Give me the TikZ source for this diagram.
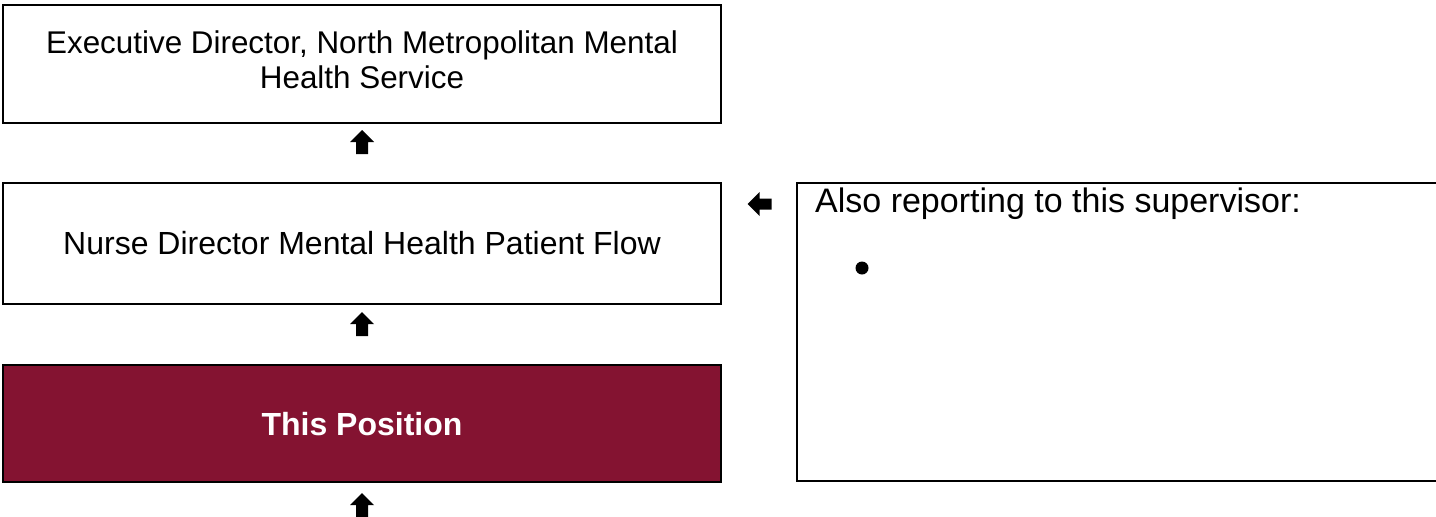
\documentclass[tikz,border=0pt]{standalone}
\usepackage{fontspec}
\setmainfont{Liberation Sans}
\definecolor{maroon}{HTML}{841331}
\begin{document}
\begin{tikzpicture}[x=1pt,y=-1pt,
  box/.style={draw=black,line width=2.5pt,minimum width=718pt,inner sep=0pt},
  txt/.style={inner sep=0pt,align=center,font=\fontsize{32}{35}\selectfont},
  uparrow/.pic={\fill[black] (-12,0) -- (0,-12) -- (12,0) -- (6,0) -- (6,12) -- (-6,12) -- (-6,0) -- cycle;},
  leftarrow/.pic={\fill[black] (0,-12) -- (-12,0) -- (0,12) -- (0,5.5) -- (12,5.5) -- (12,-5.5) -- (0,-5.5) -- cycle;}]
\useasboundingbox (0,0) rectangle (1436,517);
\begin{scope}
\clip (0,0) rectangle (1436,517);
\node[box,minimum height=118pt] (exec) at (362,64) {};
\node[txt,font=\fontsize{31.4}{35}\selectfont] (exect) at (362,59.5) {Executive Director, North Metropolitan Mental\\Health Service};
\node[box,minimum height=121pt] (nurse) at (362,243.5) {};
\node[txt] (nurset) at (362,243) {Nurse Director Mental Health Patient Flow};
\node[box,minimum height=117pt,fill=maroon] (pos) at (362,423.5) {};
\node[txt,text=white,font=\fontsize{32}{35}\selectfont\bfseries] (post) at (362,424) {This Position};
\draw[line width=2.5pt] (1445,183) -- (797,183) -- (797,481) -- (1445,481);
\node[anchor=base west,font=\fontsize{34}{38}\selectfont,inner sep=0pt] (also) at (815,212) {Also reporting to this supervisor:};
\fill[black] (862,268) circle (6.5);
\pic at (362,142) {uparrow};
\pic at (362,324) {uparrow};
\pic at (362,505) {uparrow};
\pic at (759.5,204) {leftarrow};
\end{scope}
\end{tikzpicture}
\end{document}
